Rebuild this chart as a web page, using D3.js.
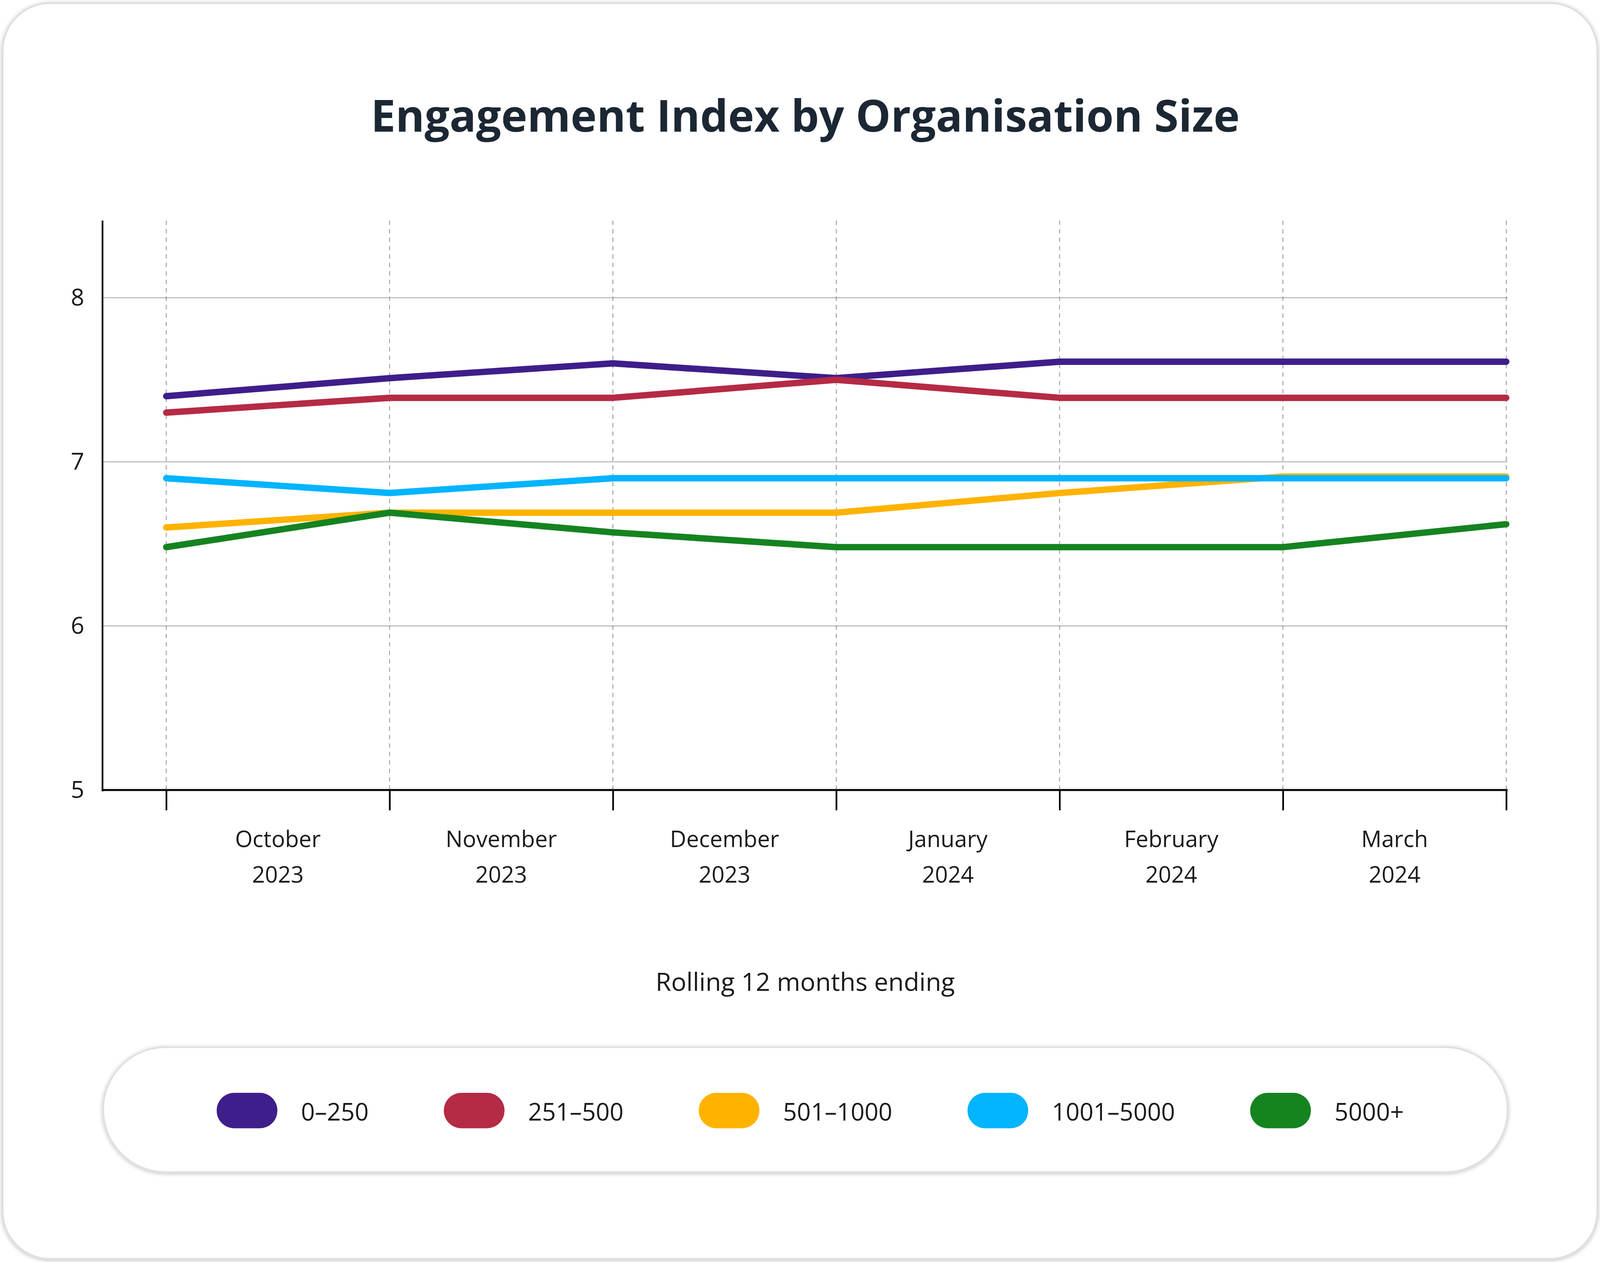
<!DOCTYPE html>
<html>
<head>
<meta charset="utf-8">
<script src="https://cdn.jsdelivr.net/npm/d3@7"></script>
<style>
  html, body { margin: 0; padding: 0; background: #fff; overflow: hidden; }
  svg { display: block; font-family: "Open Sans", "Noto Sans", sans-serif; }
</style>
</head>
<body>
<svg id="chart"></svg>
<script>
// Engagement index, rolling 12 months

// period end points (7 points, labels sit between them)
var periods = [0, 1, 2, 3, 4, 5, 6];
var monthLabels = [
  ['October', '2023'],
  ['November', '2023'],
  ['December', '2023'],
  ['January', '2024'],
  ['February', '2024'],
  ['March', '2024']
];

var seriesNames = ['0–250', '251–500', '501–1000', '1001–5000', '5000+'];
var seriesColors = ['#3e1e8a', '#b52a45', '#ffb300', '#03b4ff', '#158320'];

var size0 = [7.40, 7.51, 7.60, 7.51, 7.61, 7.61, 7.61];
var size251 = [7.30, 7.39, 7.39, 7.50, 7.39, 7.39, 7.39];
var size501 = [6.60, 6.69, 6.69, 6.69, 6.81, 6.91, 6.91];
var size1001 = [6.90, 6.81, 6.90, 6.90, 6.90, 6.90, 6.90];
var size5000 = [6.48, 6.69, 6.57, 6.48, 6.48, 6.48, 6.62];

var yTicks = [5, 6, 7, 8];

var allSeries = [size0, size251, size501, size1001, size5000];

// layout is designed on a 4745 x 3230 frame and stretched to the window
var W = window.innerWidth || 4745, H = window.innerHeight || 3230;
var sx = W / 4745, sy = H / 3230, fs = Math.min(sx, sy);
function px(v) { return v * sx; }
function py(v) { return v * sy; }
function pf(v) { return v * fs; }

var svg = d3.select('#chart').attr('width', W).attr('height', H);

// drop shadow used by the card and the legend pill
var defs = svg.append('defs');
var f = defs.append('filter').attr('id', 'soft').attr('x', '-5%').attr('y', '-5%').attr('width', '110%').attr('height', '110%');
f.append('feGaussianBlur').attr('in', 'SourceAlpha').attr('stdDeviation', pf(6));
f.append('feOffset').attr('dy', pf(2)).attr('result', 'b');
f.append('feComponentTransfer').append('feFuncA').attr('type', 'linear').attr('slope', 0.25);
var fm = f.append('feMerge');
fm.append('feMergeNode');
fm.append('feMergeNode').attr('in', 'SourceGraphic');

// card
svg.append('rect')
  .attr('x', px(8)).attr('y', py(8))
  .attr('width', W - px(16)).attr('height', H - py(16))
  .attr('rx', pf(140))
  .attr('fill', '#fff')
  .attr('stroke', '#dedede')
  .attr('stroke-width', pf(5))
  .attr('filter', 'url(#soft)');

// title
svg.append('text')
  .attr('x', px(2388)).attr('y', py(337))
  .attr('text-anchor', 'middle')
  .style('font-size', pf(131) + 'px')
  .style('font-weight', 700)
  .style('fill', '#1b2733')
  .text('Engagement Index by Organisation Size');

// scales
var x = d3.scaleLinear().domain([0, 6]).range([px(493), px(4467)]);
var y = d3.scaleLinear().domain([5, 8]).range([py(2022), py(762)]);
var yTop = y(8.47);
var xLeft = px(304), xRight = px(4471);

var plot = svg.append('g');

// horizontal grid
plot.selectAll('line.hgrid')
  .data(yTicks.filter(function(d) { return d > 5; }))
  .enter().append('line')
  .attr('class', 'hgrid')
  .attr('x1', xLeft).attr('x2', xRight)
  .attr('y1', function(d) { return y(d); })
  .attr('y2', function(d) { return y(d); })
  .attr('stroke', '#b3b3b3')
  .attr('stroke-width', pf(3));

// vertical dashed grid
plot.selectAll('line.vgrid')
  .data(periods)
  .enter().append('line')
  .attr('class', 'vgrid')
  .attr('x1', function(d) { return x(d); })
  .attr('x2', function(d) { return x(d); })
  .attr('y1', yTop).attr('y2', y(5))
  .attr('stroke', '#808080')
  .attr('stroke-width', pf(2))
  .attr('stroke-dasharray', pf(13) + ',' + pf(12));

// y axis labels
var yAxis = d3.axisLeft(y).tickValues(yTicks).tickSize(0).tickPadding(px(54)).tickFormat(d3.format('d'));
var gy = svg.append('g').attr('transform', 'translate(' + xLeft + ',0)').call(yAxis);
gy.select('.domain').remove();
gy.selectAll('text')
  .style('font-size', pf(70) + 'px')
  .style('font-family', '"Open Sans", sans-serif')
  .style('fill', '#1a1a1a');

svg.append('line')
  .attr('x1', xLeft).attr('x2', xLeft)
  .attr('y1', yTop).attr('y2', y(5) + pf(4))
  .attr('stroke', '#000').attr('stroke-width', pf(5));

// x axis: ticks at period ends
var xAxis = d3.axisBottom(x).tickValues(periods).tickSize(py(52)).tickFormat('');
var gx = svg.append('g').attr('transform', 'translate(0,' + y(5) + ')').call(xAxis);
gx.select('.domain').remove();
gx.selectAll('.tick line').attr('stroke', '#000').attr('stroke-width', pf(5));

svg.append('line')
  .attr('x1', xLeft).attr('x2', xRight)
  .attr('y1', y(5)).attr('y2', y(5))
  .attr('stroke', '#000').attr('stroke-width', pf(6));

// month labels centred between ticks
var lab = svg.selectAll('text.month')
  .data(monthLabels)
  .enter().append('text')
  .attr('class', 'month')
  .attr('text-anchor', 'middle')
  .attr('x', function(d, i) { return x(i + 0.5); })
  .attr('y', py(2168))
  .style('font-size', pf(67) + 'px')
  .style('fill', '#1a1a1a');
lab.append('tspan').text(function(d) { return d[0]; });
lab.append('tspan')
  .attr('x', function(d, i) { return x(i + 0.5); })
  .attr('dy', py(91))
  .text(function(d) { return d[1]; });

svg.append('text')
  .attr('x', px(2388)).attr('y', py(2536))
  .attr('text-anchor', 'middle')
  .style('font-size', pf(75) + 'px')
  .style('fill', '#1a1a1a')
  .text('Rolling 12 months ending');

// lines
var line = d3.line()
  .x(function(d, i) { return x(periods[i]); })
  .y(function(d) { return y(d); });

plot.selectAll('path.series')
  .data(allSeries)
  .enter().append('path')
  .attr('class', 'series')
  .attr('d', line)
  .attr('fill', 'none')
  .attr('stroke', function(d, i) { return seriesColors[i]; })
  .attr('stroke-width', pf(19))
  .attr('stroke-linecap', 'round')
  .attr('stroke-linejoin', 'round');

// legend
var lgTop = py(2680), lgH = py(320), lgMid = py(2842);
svg.append('rect')
  .attr('x', px(306)).attr('y', lgTop)
  .attr('width', px(4471 - 306)).attr('height', lgH)
  .attr('rx', lgH / 2)
  .attr('fill', '#fff')
  .attr('stroke', '#e0e0e0')
  .attr('stroke-width', pf(5))
  .attr('filter', 'url(#soft)');

var legend = svg.append('g');
var items = legend.selectAll('g')
  .data(seriesNames)
  .enter().append('g');
items.append('rect')
  .attr('width', pf(180)).attr('height', pf(105))
  .attr('rx', pf(52))
  .attr('y', lgMid - pf(52))
  .attr('fill', function(d, i) { return seriesColors[i]; });
items.append('text')
  .attr('x', pf(250)).attr('y', lgMid + pf(5))
  .attr('dy', '0.35em')
  .style('font-size', pf(72) + 'px')
  .style('fill', '#1a1a1a')
  .text(function(d) { return d; });

// lay out legend items by their text width
var gap = pf(223);
var pos = 0, offsets = [];
items.each(function() {
  var w = pf(250) + d3.select(this).select('text').node().getComputedTextLength();
  offsets.push(pos);
  pos += w + gap;
});
var total = pos - gap;
var start = px(2403) - total / 2;
items.attr('transform', function(d, i) { return 'translate(' + (start + offsets[i]) + ',0)'; });
</script>
</body>
</html>
